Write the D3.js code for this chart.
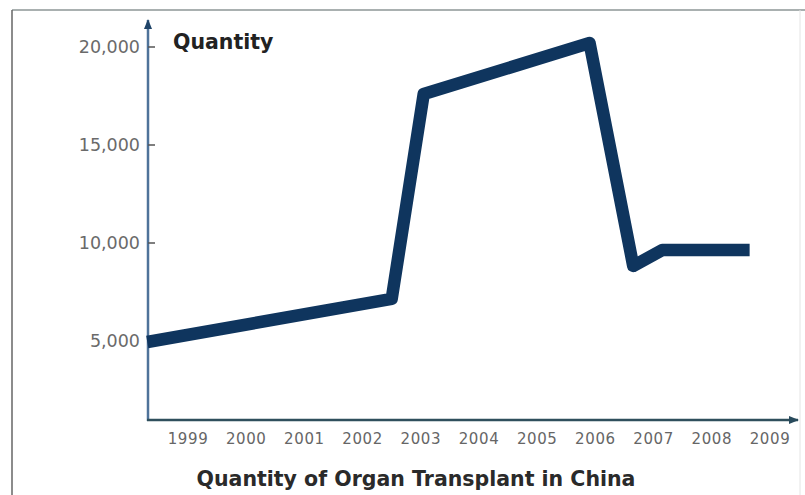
<!DOCTYPE html>
<html>
<head>
<meta charset="utf-8">
<script src="https://cdn.jsdelivr.net/npm/d3@7"></script>
<style>
  body { margin: 0; background: #fff; }
  svg { display: block; }
</style>
</head>
<body>
<script>
const width = 805;
const height = 495;

// values (fractional years: the line is not aligned to the labels)
const years = [1998.3, 2002.5, 2003.05, 2005.9, 2006.65, 2007.15, 2008.65];
const quantities = [4950, 7150, 17600, 20200, 8830, 9640, 9640];
const yearTicks = [1999, 2000, 2001, 2002, 2003, 2004, 2005, 2006, 2007, 2008, 2009];
const quantityTicks = [5000, 10000, 15000, 20000];
const tickMarks = [10000, 15000, 20000];

const axisX = 148;
const axisY = 420;

const x = d3.scaleLinear().domain([1999, 2009]).range([188, 770]);
const y = d3.scaleLinear().domain([5000, 20000]).range([341, 47]);

const svg = d3.select("body").append("svg")
  .attr("width", width)
  .attr("height", height);

// frame
svg.append("line").attr("x1", 12).attr("y1", 10).attr("x2", 805).attr("y2", 10)
  .attr("stroke", "#a9b0b0").attr("stroke-width", 2);
svg.append("line").attr("x1", 12).attr("y1", 10).attr("x2", 12).attr("y2", height)
  .attr("stroke", "#666").attr("stroke-width", 1.5);
svg.append("line").attr("x1", 800).attr("y1", 10).attr("x2", 800).attr("y2", height)
  .attr("stroke", "#e4e4e4").attr("stroke-width", 1);

const defs = svg.append("defs");
function marker(id, color) {
  defs.append("marker")
    .attr("id", id)
    .attr("viewBox", [0, 0, 10, 8])
    .attr("refX", 9)
    .attr("refY", 4)
    .attr("markerWidth", 10)
    .attr("markerHeight", 8)
    .attr("markerUnits", "userSpaceOnUse")
    .attr("orient", "auto")
    .append("path")
    .attr("d", d3.line()([[0, 0], [10, 4], [0, 8]]))
    .attr("fill", color);
}
marker("arrow-y", "#1f4468");
marker("arrow-x", "#284a5c");

// y axis
svg.append("line")
  .attr("x1", axisX).attr("y1", axisY + 1)
  .attr("x2", axisX).attr("y2", 20)
  .attr("stroke", "#4f739a").attr("stroke-width", 2.5)
  .attr("marker-end", "url(#arrow-y)");

svg.selectAll(".ytick")
  .data(tickMarks)
  .enter()
  .append("line")
  .attr("class", "ytick")
  .attr("x1", axisX)
  .attr("x2", axisX + 7)
  .attr("y1", (d) => y(d))
  .attr("y2", (d) => y(d))
  .attr("stroke", "#555")
  .attr("stroke-width", 1.5);

svg.selectAll(".ylabel")
  .data(quantityTicks)
  .enter()
  .append("text")
  .attr("class", "ylabel")
  .attr("x", axisX - 8)
  .attr("y", (d) => y(d))
  .attr("dy", "0.35em")
  .attr("text-anchor", "end")
  .attr("font-family", "DejaVu Sans")
  .attr("font-size", 17.5)
  .attr("fill", "#6a6a6a")
  .text((d) => d3.format(",")(d));

// x axis
svg.append("line")
  .attr("x1", axisX - 1).attr("y1", axisY)
  .attr("x2", 798).attr("y2", axisY)
  .attr("stroke", "#2f4f5c").attr("stroke-width", 2.5)
  .attr("marker-end", "url(#arrow-x)");

svg.selectAll(".xlabel")
  .data(yearTicks)
  .enter()
  .append("text")
  .attr("class", "xlabel")
  .attr("x", (d) => x(d))
  .attr("y", 444)
  .attr("text-anchor", "middle")
  .attr("font-family", "DejaVu Sans")
  .attr("font-size", 15)
  .attr("letter-spacing", 0.6)
  .attr("fill", "#666")
  .text((d) => d);

// data line
const line = d3.line()
  .x((d, i) => x(years[i]))
  .y((d) => y(d));

svg.append("path")
  .datum(quantities)
  .attr("d", line)
  .attr("fill", "none")
  .attr("stroke", "#0f355e")
  .attr("stroke-width", 12.5)
  .attr("stroke-linejoin", "round")
  .attr("stroke-linecap", "butt");

// labels
svg.append("text")
  .attr("x", 173)
  .attr("y", 49)
  .attr("font-family", "DejaVu Sans")
  .attr("font-weight", "bold")
  .attr("font-size", 20.5)
  .attr("fill", "#222")
  .text("Quantity");

svg.append("text")
  .attr("x", 416)
  .attr("y", 486)
  .attr("text-anchor", "middle")
  .attr("font-family", "DejaVu Sans")
  .attr("font-weight", "bold")
  .attr("font-size", 20.5)
  .attr("fill", "#2a2a2a")
  .text("Quantity of Organ Transplant in China");
</script>
</body>
</html>
